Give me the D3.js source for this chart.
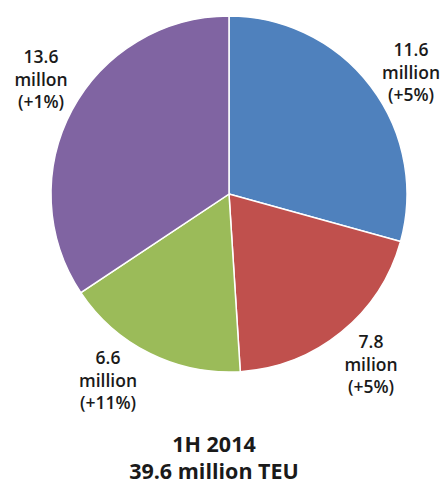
<!DOCTYPE html>
<html><head><meta charset="utf-8">
<script src="https://cdn.jsdelivr.net/npm/d3@7"></script>
<style>
html,body{margin:0;padding:0;background:#fff;overflow:hidden;}
svg{display:block;}
</style></head>
<body>
<svg id="chart" width="446" height="485"></svg>
<script>
const categories = ["A", "B", "C", "D"];
const values = [11.6, 7.8, 6.6, 13.6];
const valueLabels = ["11.6", "7.8", "6.6", "13.6"];
const unitLabels = ["million", "milion", "million", "millon"];
const changeLabels = ["(+5%)", "(+5%)", "(+11%)", "(+1%)"];
const colors = ["#4F81BD", "#C0504D", "#9BBB59", "#8064A2"];
const titleLines = ["1H 2014", "39.6 million TEU"];

const svg = d3.select("#chart");
const cx = 229, cy = 194, r = 178;
const font = "'Open Sans', sans-serif";

const pie = d3.pie().sort(null).value(d => d)(values);
const arc = d3.arc().innerRadius(0).outerRadius(r);

const g = svg.append("g").attr("transform", `translate(${cx},${cy})`);
g.selectAll("path").data(pie).join("path")
  .attr("d", arc)
  .attr("fill", (d, i) => colors[i])
  .attr("stroke", "#fff")
  .attr("stroke-width", 1.5);

const labelPos = [[411, 50], [371, 342], [108, 358], [41, 57]];
const lineH = 22.5;
pie.forEach((d, i) => {
  const t = svg.append("text")
    .attr("text-anchor", "middle")
    .attr("font-family", font)
    .attr("font-weight", 600)
    .attr("font-size", 17.5)
    .attr("fill", "#1a1a1a");
  [valueLabels[i], unitLabels[i], changeLabels[i]].forEach((s, k) => {
    t.append("tspan").attr("x", labelPos[i][0]).attr("y", labelPos[i][1] + 6 + k * lineH).text(s);
  });
});

titleLines.forEach((s, k) => {
  svg.append("text")
    .attr("text-anchor", "middle").attr("font-family", font).attr("font-weight", 700)
    .attr("font-size", 21.5).attr("fill", "#1a1a1a")
    .attr("x", 214).attr("y", 452 + k * 27).text(s);
});
</script>
</body></html>
